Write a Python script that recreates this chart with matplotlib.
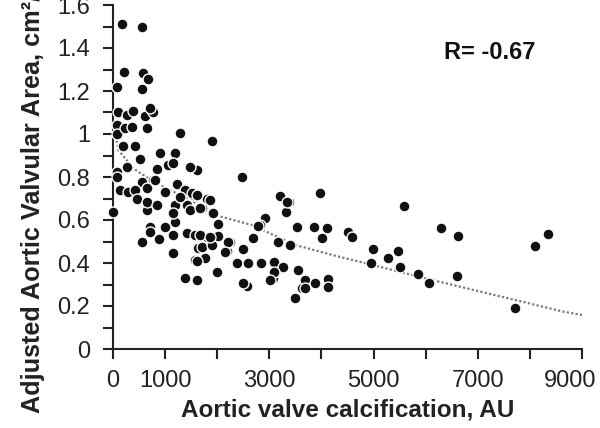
import matplotlib
matplotlib.use("Agg")
import matplotlib.pyplot as plt
import matplotlib.transforms as mtransforms
import numpy as np

plt.rcParams['font.family'] = ['Liberation Sans', 'DejaVu Sans']

# Scatter data (Aortic valve calcification AU, adjusted AVA cm2/m2)
calc_au = [
    166, 550, 211, 570, 678, 550, 70,
    102, 263, 390, 614, 773, 710,
    70, 70, 230, 360, 647, 1286,
    198, 422, 518, 902, 1190,
    70, 262, 839, 1062, 1157, 1606, 1478,
    1906, 2469,
    70, 774, 550, 1222,
    134, 294, 422, 647, 998, 1382, 1542, 806,
    1414, 1190, 806, 647, 6, 455, 647, 839,
    1798, 1702, 1190, 710, 1862, 1510, 1606, 1478, 1670, 1894, 2021, 1157, 1286,
    1925, 2917, 2821, 3205, 3384, 3314, 3525, 2789,
    550, 710, 889, 998, 1157, 1144, 1414, 1574, 1798, 1638, 1574, 1766, 1382, 1606,
    1990, 1702, 1906, 2015, 2182, 2246, 2374, 2598, 2502, 2566, 2502, 2841, 2693,
    3077, 3129, 3096, 3269, 3173, 3397, 3493, 3544, 3346, 3096, 3013, 3621,
    1606, 1670, 1862, 2214, 2150,
    3973, 5591, 3864, 4100, 4005, 4505, 4593, 4996, 4952, 5284, 5476, 5509, 5848,
    3685, 3877, 4121, 3685, 4121, 6296, 6628, 6065, 6595, 7716, 8100, 8355,
]
ava_index = [
    1.51, 1.50, 1.29, 1.285, 1.254, 1.208, 1.217,
    1.10, 1.09, 1.105, 1.085, 1.10, 1.12,
    1.04, 1.00, 1.026, 1.034, 1.026, 1.006,
    0.944, 0.944, 0.882, 0.913, 0.91,
    0.825, 0.848, 0.836, 0.856, 0.864, 0.833, 0.845,
    0.969, 0.80,
    0.80, 0.786, 0.779, 0.767,
    0.74, 0.732, 0.74, 0.747, 0.732, 0.74, 0.716, 0.786,
    0.67, 0.67, 0.67, 0.647, 0.639, 0.70, 0.685, 0.67,
    0.70, 0.654, 0.592, 0.569, 0.693, 0.724, 0.716, 0.647, 0.654, 0.631, 0.581, 0.631, 0.708,
    0.631, 0.608, 0.577, 0.712, 0.685, 0.639, 0.569, 0.572,
    0.499, 0.546, 0.51, 0.566, 0.53, 0.448, 0.538, 0.53, 0.522, 0.468, 0.414, 0.422, 0.329, 0.321,
    0.36, 0.476, 0.484, 0.526, 0.457, 0.499, 0.401, 0.401, 0.464, 0.293, 0.306, 0.401, 0.515,
    0.329, 0.367, 0.406, 0.38, 0.499, 0.484, 0.236, 0.367, 0.685, 0.36, 0.321, 0.282,
    0.411, 0.53, 0.522, 0.499, 0.453,
    0.727, 0.665, 0.569, 0.561, 0.515, 0.546, 0.52, 0.465, 0.401, 0.422, 0.456, 0.38, 0.349,
    0.321, 0.306, 0.324, 0.282, 0.29, 0.561, 0.526, 0.306, 0.34, 0.189, 0.479, 0.535,
]

# Trend (fit) line
trend_x = [70, 102, 390, 774, 1157, 1542, 1958, 2662, 3493, 4324, 4996, 5989, 7716, 8637, 9000]
trend_y = [0.97, 0.926, 0.84, 0.778, 0.732, 0.685, 0.623, 0.577, 0.484, 0.43, 0.39, 0.329, 0.228, 0.174, 0.158]

x_ticks = [0, 1000, 2000, 3000, 4000, 5000, 6000, 7000, 8000, 9000]
x_tick_labels = ['0', '1000', '', '3000', '', '5000', '', '7000', '', '9000']
y_ticks = [0, 0.2, 0.4, 0.6, 0.8, 1.0, 1.2, 1.4, 1.6]
y_tick_labels = ['0', '0.2', '0.4', '0.6', '0.8', '1', '1.2', '1.4', '1.6']
y_minor = [0.1, 0.3, 0.5, 0.7, 0.9, 1.1, 1.3, 1.5]

fig = plt.figure(figsize=(6.0, 4.28), dpi=100)
ax = fig.add_axes([113/600, 79/428, 469/600, 344/428])

ax.plot(trend_x, trend_y, linestyle=(0, (1, 1)), color='#7a7a7a', linewidth=1.6, zorder=1)
ax.scatter(calc_au, ava_index, s=62, c='#111111', edgecolors='white', linewidths=1.0,
           zorder=3, clip_on=False)

ax.set_xlim(0, 9000)
ax.set_ylim(0, 1.6)
ax.set_xticks(x_ticks)
ax.set_xticklabels(x_tick_labels)
ax.set_yticks(y_ticks)
ax.set_yticklabels(y_tick_labels)
ax.set_yticks(y_minor, minor=True)

for s in ['top', 'right']:
    ax.spines[s].set_visible(False)
for s in ['left', 'bottom']:
    ax.spines[s].set_linewidth(1.5)
    ax.spines[s].set_color('#222222')

ax.tick_params(axis='both', which='major', direction='out', length=7.5, width=1.5,
               labelsize=17, colors='#222222')
ax.tick_params(axis='y', which='major', pad=9)
ax.tick_params(axis='x', which='major', pad=7.5)
ax.tick_params(axis='y', which='minor', direction='out', length=7.5, width=1.5, colors='#222222')

# shift last x tick label slightly left so it fits
last = ax.xaxis.get_major_ticks()[-1].label1
last.set_transform(last.get_transform() + mtransforms.ScaledTranslation(-12/100, 0, fig.dpi_scale_trans))

ax.set_xlabel('Aortic valve calcification, AU', fontsize=17.5, fontweight='bold', color='#222222')
ax.xaxis.set_label_coords(0.5, -0.143)

ax.set_ylabel('Adjusted Aortic Valvular Area, cm²/m²', fontsize=18.2, fontweight='bold', color='#222222')
ax.yaxis.label.set_rotation_mode('default')
ax.yaxis.label.set_horizontalalignment('center')
ax.yaxis.label.set_verticalalignment('bottom')
ax.yaxis.set_label_coords((33 - 113) / 469, (349 - 413) / 344)

ax.text(7236, 1.38, 'R= -0.67', fontsize=17, fontweight='bold', ha='center', va='center', color='#111111')

fig.savefig('out.png', dpi=100)
